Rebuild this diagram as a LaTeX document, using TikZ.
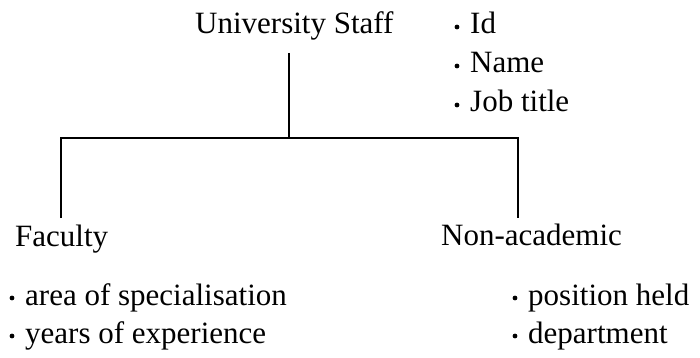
\documentclass[tikz,border=0pt]{standalone}
\usepackage{fontspec}
\setmainfont{Liberation Serif}
\begin{document}
\begin{tikzpicture}[x=1pt,y=-1pt,
  txt/.style={anchor=base west,inner sep=0pt,font=\fontsize{31}{36}\selectfont},
  conn/.style={line width=1.5pt},
  bul/.style={fill=black}]
\useasboundingbox (0,0) rectangle (700,358);
% texts
\node[txt] (staff) at (195,34) {University Staff};
\node[txt] (id) at (470,34) {Id};
\node[txt] (name) at (470,73) {Name};
\node[txt] (job) at (470,112) {Job title};
\node[txt] (fac) at (15,246) {Faculty};
\node[txt] (non) at (441,245) {Non-academic};
\node[txt] (area) at (25,305) {area of specialisation};
\node[txt] (years) at (25,343) {years of experience};
\node[txt] (pos) at (528,305) {position held};
\node[txt] (dept) at (528,343) {department};
% bullets
\foreach \n in {id,name,job,area,years,pos,dept}
  \fill[bul] ([xshift=-13pt,yshift=7pt]\n.base west) circle (2.4pt);
% connectors
\coordinate (top) at (289,53);
\coordinate (mid) at (289,138);
\coordinate (lc) at (61,138);
\coordinate (rc) at (518,138);
\coordinate (lb) at (61,218);
\coordinate (rb) at (518,218);
\draw[conn] (top) -- (mid);
\draw[conn] (lb) -- (lc) -- (rc) -- (rb);
\end{tikzpicture}
\end{document}
